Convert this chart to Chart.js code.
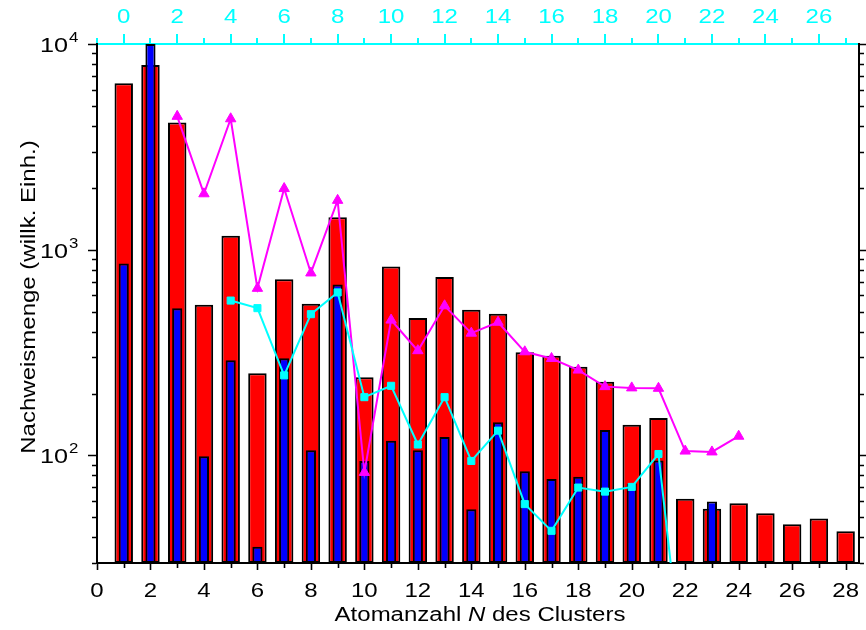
<!DOCTYPE html>
<html>
<head>
<meta charset="utf-8">
<title>Nachweismenge der Cluster</title>
<script src="https://cdn.jsdelivr.net/npm/chart.js@4/dist/chart.umd.min.js"></script>
<style>
  html, body { margin: 0; padding: 0; background: #ffffff; }
  #wrap { width: 866px; height: 630px; }
</style>
</head>
<body>
<div id="wrap"><canvas id="c" width="866" height="630"></canvas></div>
<script>
// Atom number N of the cluster (bottom axis)
const redN      = [1, 2, 3, 4, 5, 6, 7, 8, 9, 10, 11, 12, 13, 14, 15, 16, 17, 18, 19, 20, 21, 22, 23, 24, 25, 26, 27, 28];
const redCounts = [6450, 7900, 4150, 540, 1170, 251, 719, 546, 1440, 240, 828, 466, 736, 511, 488, 317, 305, 270, 228, 141, 152, 61.5, 55, 58.6, 52.3, 46.3, 49.4, 42.8];

const blueN      = [1, 2, 3, 4, 5, 6, 7, 8, 9, 10, 11, 12, 13, 14, 15, 16, 17, 18, 19, 20, 21, 23];
const blueCounts = [857, 10000, 520, 99, 290, 36, 297, 106, 678, 94, 118, 106, 123, 54.8, 145, 83.8, 76.9, 78.7, 133, 73, 94.4, 59.7];

const magentaN      = [3, 4, 5, 6, 7, 8, 9, 10, 11, 12, 13, 14, 15, 16, 17, 18, 19, 20, 21, 22, 23, 24];
const magentaCounts = [4450, 1870, 4330, 649, 1983, 771, 1738, 82.7, 455, 323, 534, 393, 444, 319, 296, 260, 216, 213, 212, 105, 104, 124];

const cyanN      = [5, 6, 7, 8, 9, 10, 11, 12, 13, 14, 15, 16, 17, 18, 19, 20, 21, 22];
const cyanCounts = [566, 520, 245, 486, 620, 192, 218, 113, 192, 94, 132, 58, 43, 69.8, 66.7, 70.3, 101.6, 7];

// Axis ticks
const bottomTicks = [0, 1, 2, 3, 4, 5, 6, 7, 8, 9, 10, 11, 12, 13, 14, 15, 16, 17, 18, 19, 20, 21, 22, 23, 24, 25, 26, 27, 28];
const topTicks    = [-1, 0, 1, 2, 3, 4, 5, 6, 7, 8, 9, 10, 11, 12, 13, 14, 15, 16, 17, 18, 19, 20, 21, 22, 23, 24, 25, 26, 27];
const yMinorTicks = [30, 40, 50, 60, 70, 80, 90, 200, 300, 400, 500, 600, 700, 800, 900, 2000, 3000, 4000, 5000, 6000, 7000, 8000, 9000];
const yMajorTicks = [100, 1000, 10000];
const yMajorExp   = ['2', '3', '4'];

const pts = (xs, ys) => xs.map((x, i) => ({ x: x, y: ys[i] }));

const FONT = '"Liberation Sans", Arial, sans-serif';
const SX = 1.2; // stretch of the label lettering along the writing direction

function stretchedText(ctx, str, x, y, size, color, align, italic) {
  ctx.save();
  ctx.font = (italic ? 'italic ' : '') + size + 'px ' + FONT;
  ctx.fillStyle = color;
  ctx.textBaseline = 'alphabetic';
  const w = ctx.measureText(str).width * SX;
  let x0 = x;
  if (align === 'center') x0 = x - w / 2;
  else if (align === 'right') x0 = x - w;
  ctx.translate(x0, y);
  ctx.scale(SX, 1);
  ctx.textAlign = 'left';
  ctx.fillText(str, 0, 0);
  ctx.restore();
  return w;
}

const axesDecor = {
  id: 'axesDecor',
  afterDraw(chart) {
    const ctx = chart.ctx;
    const { x, x2, y } = chart.scales;
    const area = chart.chartArea;

    ctx.save();
    // left / right logarithmic ticks
    ctx.strokeStyle = '#000';
    ctx.lineWidth = 1.6;
    const yt = yMinorTicks.map(v => [v, 4]).concat(yMajorTicks.map(v => [v, 8]));
    yt.forEach(([v, len]) => {
      const py = Math.round(y.getPixelForValue(v)) + 0.5;
      ctx.beginPath();
      ctx.moveTo(area.left - 1, py); ctx.lineTo(area.left - 1 - len, py);
      ctx.moveTo(area.right + 1, py); ctx.lineTo(area.right + 1 + len, py);
      ctx.stroke();
    });
    // bottom ticks
    bottomTicks.forEach(v => {
      const px = Math.round(x.getPixelForValue(v)) + 0.5;
      const len = v % 2 === 0 ? 6 : 4;
      ctx.beginPath();
      ctx.moveTo(px, area.bottom + 1); ctx.lineTo(px, area.bottom + 1 + len);
      ctx.stroke();
    });
    // top (cyan) ticks
    ctx.strokeStyle = '#00ffff';
    ctx.lineWidth = 2;
    topTicks.forEach(v => {
      const px = Math.round(x2.getPixelForValue(v));
      const len = v % 2 === 0 ? 9 : 5;
      ctx.beginPath();
      ctx.moveTo(px, area.top - 1); ctx.lineTo(px, area.top - 1 - len);
      ctx.stroke();
    });
    ctx.restore();

    // bottom labels
    bottomTicks.filter(v => v % 2 === 0).forEach(v => {
      stretchedText(ctx, String(v), x.getPixelForValue(v), 597, 20, '#000', 'center');
    });
    // top labels
    topTicks.filter(v => v >= 0 && v % 2 === 0).forEach(v => {
      stretchedText(ctx, String(v), x2.getPixelForValue(v), 23, 20, '#00ffff', 'center');
    });
    // y labels: 10 with exponent
    yMajorTicks.forEach((v, i) => {
      const py = y.getPixelForValue(v);
      stretchedText(ctx, '10', 68, py + 8, 21, '#000', 'right');
      stretchedText(ctx, yMajorExp[i], 69, py - 2, 14, '#000', 'left');
    });

    // x-axis title with italic N
    const parts = [['Atomanzahl ', false], ['N', true], [' des Clusters', false]];
    ctx.save();
    let total = 0;
    parts.forEach(([s, it]) => {
      ctx.font = (it ? 'italic ' : '') + '20px ' + FONT;
      total += ctx.measureText(s).width * SX;
    });
    ctx.restore();
    let cx = 480 - total / 2;
    parts.forEach(([s, it]) => {
      cx += stretchedText(ctx, s, cx, 621, 20, '#000', 'left', it);
    });

    // y-axis title (rotated, stretched along its length)
    ctx.save();
    ctx.translate(35, 297);
    ctx.rotate(-Math.PI / 2);
    ctx.scale(1.2, 1.05);
    ctx.font = '20px ' + FONT;
    ctx.fillStyle = '#000';
    ctx.textAlign = 'center';
    ctx.textBaseline = 'alphabetic';
    ctx.fillText('Nachweismenge (willk. Einh.)', 0, 0);
    ctx.restore();
  }
};

const fixedSize = (prop, val) => function (scale) { scale[prop] = val; };

new Chart(document.getElementById('c'), {
  type: 'bar',
  data: {
    datasets: [
      {
        type: 'bar', data: pts(redN, redCounts),
        backgroundColor: '#ff0000', borderColor: '#000000', borderWidth: 2, borderSkipped: false,
        barPercentage: 0.69, categoryPercentage: 1, grouped: false, order: 4
      },
      {
        type: 'bar', data: pts(blueN, blueCounts),
        backgroundColor: '#0000ff', borderColor: '#000000', borderWidth: 2, borderSkipped: false,
        barPercentage: 0.38, categoryPercentage: 1, grouped: false, order: 3
      },
      {
        type: 'line', data: pts(magentaN, magentaCounts),
        borderColor: '#ff00ff', backgroundColor: '#ff00ff', borderWidth: 2,
        pointStyle: 'triangle', pointRadius: 6, pointBorderWidth: 1, tension: 0, order: 2
      },
      {
        type: 'line', data: pts(cyanN, cyanCounts),
        borderColor: '#00ffff', backgroundColor: '#00ffff', borderWidth: 2,
        pointStyle: 'rect', pointRadius: 5, pointBorderWidth: 1, tension: 0, order: 1
      }
    ]
  },
  options: {
    responsive: false,
    animation: false,
    devicePixelRatio: 1,
    events: [],
    layout: { padding: 0 },
    plugins: { legend: { display: false }, tooltip: { enabled: false } },
    scales: {
      x: {
        type: 'linear', position: 'bottom', min: 0, max: 28.5, offset: false, z: 1,
        ticks: { display: false, stepSize: 1 }, grid: { display: false, offset: false },
        border: { display: true, color: '#000000', width: 2 },
        afterFit: fixedSize('height', 67)
      },
      x2: {
        type: 'linear', position: 'top', min: -1, max: 27.5, offset: false, z: 1,
        ticks: { display: false, stepSize: 1 }, grid: { display: false, offset: false },
        border: { display: true, color: '#00ffff', width: 2 },
        afterFit: fixedSize('height', 44)
      },
      y: {
        type: 'logarithmic', position: 'left', min: 30, max: 10000, z: 1,
        ticks: { display: false }, grid: { display: false },
        border: { display: true, color: '#000000', width: 2 },
        afterFit: fixedSize('width', 97)
      },
      y2: {
        type: 'logarithmic', position: 'right', min: 30, max: 10000, z: 1,
        ticks: { display: false }, grid: { display: false },
        border: { display: true, color: '#000000', width: 2 },
        afterFit: fixedSize('width', 4)
      }
    }
  },
  plugins: [axesDecor]
});
</script>
</body>
</html>
